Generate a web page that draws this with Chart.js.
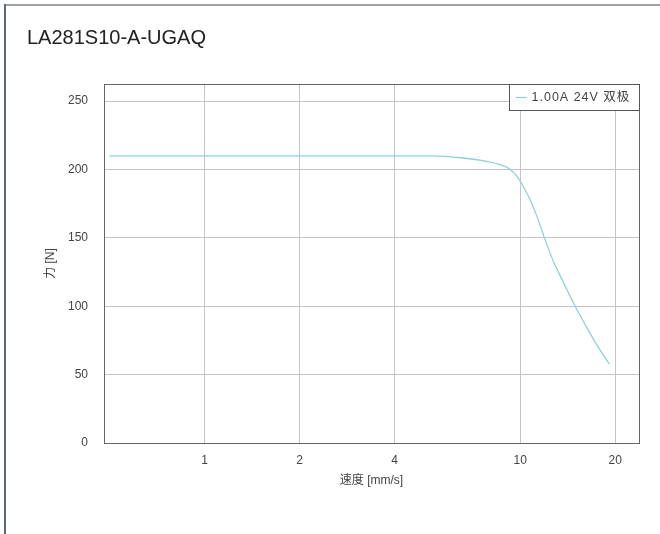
<!DOCTYPE html>
<html>
<head>
<meta charset="utf-8">
<title>LA281S10-A-UGAQ</title>
<script src="https://cdn.jsdelivr.net/npm/chart.js@4.4.1/dist/chart.umd.min.js"></script>
<style>
  html, body { margin: 0; padding: 0; background: #fff; }
  #wrap { width: 660px; height: 534px; }
</style>
</head>
<body>
<div id="wrap"><canvas id="forceChart" width="660" height="534"></canvas></div>
<script>
// Kriva sila / brzina
const chartTitle = 'LA281S10-A-UGAQ';
const seriesLabel = '1.00A 24V 双极';
const speedValues = [0.5, 2, 4, 5.2, 6.6, 8.0, 8.65, 9.31, 9.77, 10.15, 10.75, 11.3, 12.0, 12.75, 13.75, 14.95, 16.3, 17.5, 19.15];
const forceValues = [210, 210, 210, 210, 208.4, 205.5, 203.5, 200, 195, 189, 177.9, 165.7, 148.6, 132.7, 116.9, 99.8, 84.0, 71.7, 57.8];
const xTicks = [1, 2, 4, 10, 20];
const yTicks = [0, 50, 100, 150, 200, 250];

const fontFamily = '"Liberation Sans", "Noto Sans CJK SC", sans-serif';
const lineColor = 'rgb(140, 210, 222)';

// Okvir, naslov, ivica grafika i legenda
const decorPlugin = {
    id: 'decor',
    beforeDraw(chart) {
        const ctx = chart.ctx;
        ctx.save();
        ctx.fillStyle = '#fff';
        ctx.fillRect(0, 0, chart.width, chart.height);
        ctx.strokeStyle = '#9aa1a9';
        ctx.lineWidth = 2;
        ctx.beginPath();
        ctx.moveTo(4, 5);
        ctx.lineTo(chart.width, 5);
        ctx.stroke();
        ctx.strokeStyle = '#5d6b79';
        ctx.beginPath();
        ctx.moveTo(5, 4);
        ctx.lineTo(5, chart.height);
        ctx.stroke();
        ctx.fillStyle = '#222';
        ctx.font = '20px ' + fontFamily;
        ctx.textBaseline = 'alphabetic';
        ctx.fillText(chartTitle, 27, 43.5);
        ctx.restore();
    },
    afterDraw(chart) {
        const ctx = chart.ctx;
        const a = chart.chartArea;
        ctx.save();
        ctx.strokeStyle = '#666';
        ctx.lineWidth = 1;
        ctx.strokeRect(Math.round(a.left) + 0.5, Math.round(a.top) + 0.5,
            Math.round(a.right - a.left), Math.round(a.bottom - a.top));

        // legenda
        ctx.font = '12.5px ' + fontFamily;
        ctx.letterSpacing = '1px';
        const textW = ctx.measureText(seriesLabel).width;
        const boxRight = Math.round(a.right) + 0.5;
        const boxW = Math.round(textW + 31);
        const boxLeft = boxRight - boxW;
        const boxTop = Math.round(a.top) + 0.5;
        ctx.fillStyle = '#fff';
        ctx.fillRect(boxLeft, boxTop, boxW, 26);
        ctx.strokeStyle = '#555';
        ctx.strokeRect(boxLeft, boxTop, boxW, 26);
        ctx.strokeStyle = lineColor;
        ctx.lineWidth = 1.2;
        ctx.beginPath();
        ctx.moveTo(boxLeft + 6, boxTop + 13);
        ctx.lineTo(boxLeft + 17, boxTop + 13);
        ctx.stroke();
        ctx.fillStyle = '#444';
        ctx.textBaseline = 'middle';
        ctx.fillText(seriesLabel, boxLeft + 22, boxTop + 13.5);
        ctx.restore();
    }
};

const ctx = document.getElementById('forceChart').getContext('2d');
new Chart(ctx, {
    type: 'line',
    data: {
        datasets: [{
            label: seriesLabel,
            data: speedValues.map((x, i) => ({ x: x, y: forceValues[i] })),
            borderColor: lineColor,
            borderWidth: 1.3,
            pointRadius: 0,
            fill: false,
            cubicInterpolationMode: 'monotone'
        }]
    },
    options: {
        responsive: false,
        animation: false,
        layout: { padding: { top: 84, right: 21, left: 0, bottom: 0 } },
        plugins: {
            legend: { display: false },
            title: { display: false },
            tooltip: { enabled: false }
        },
        scales: {
            x: {
                type: 'logarithmic',
                min: 0.48,
                max: 23.8,
                afterBuildTicks: scale => { scale.ticks = xTicks.map(v => ({ value: v })); },
                afterFit: scale => { scale.height = 91; },
                grid: { color: '#c4c4c4', drawTicks: false },
                border: { color: '#666' },
                ticks: {
                    padding: 10,
                    color: '#444',
                    font: { family: fontFamily, size: 12 },
                    autoSkip: false,
                    maxRotation: 0,
                    callback: v => String(v)
                },
                title: {
                    display: true,
                    text: '速度 [mm/s]',
                    color: '#444',
                    font: { family: fontFamily, size: 12 },
                    padding: { top: 0, bottom: 46 }
                }
            },
            y: {
                min: 0,
                max: 262.5,
                afterBuildTicks: scale => { scale.ticks = yTicks.map(v => ({ value: v })); },
                afterFit: scale => { scale.width = 104; },
                grid: { color: '#c4c4c4', drawTicks: false },
                border: { color: '#666' },
                ticks: {
                    padding: 16,
                    color: '#444',
                    font: { family: fontFamily, size: 12 }
                },
                title: {
                    display: true,
                    text: '力 [N]',
                    color: '#444',
                    font: { family: fontFamily, size: 12 },
                    padding: { top: 43, bottom: 0 }
                }
            }
        }
    },
    plugins: [decorPlugin]
});
</script>
</body>
</html>
